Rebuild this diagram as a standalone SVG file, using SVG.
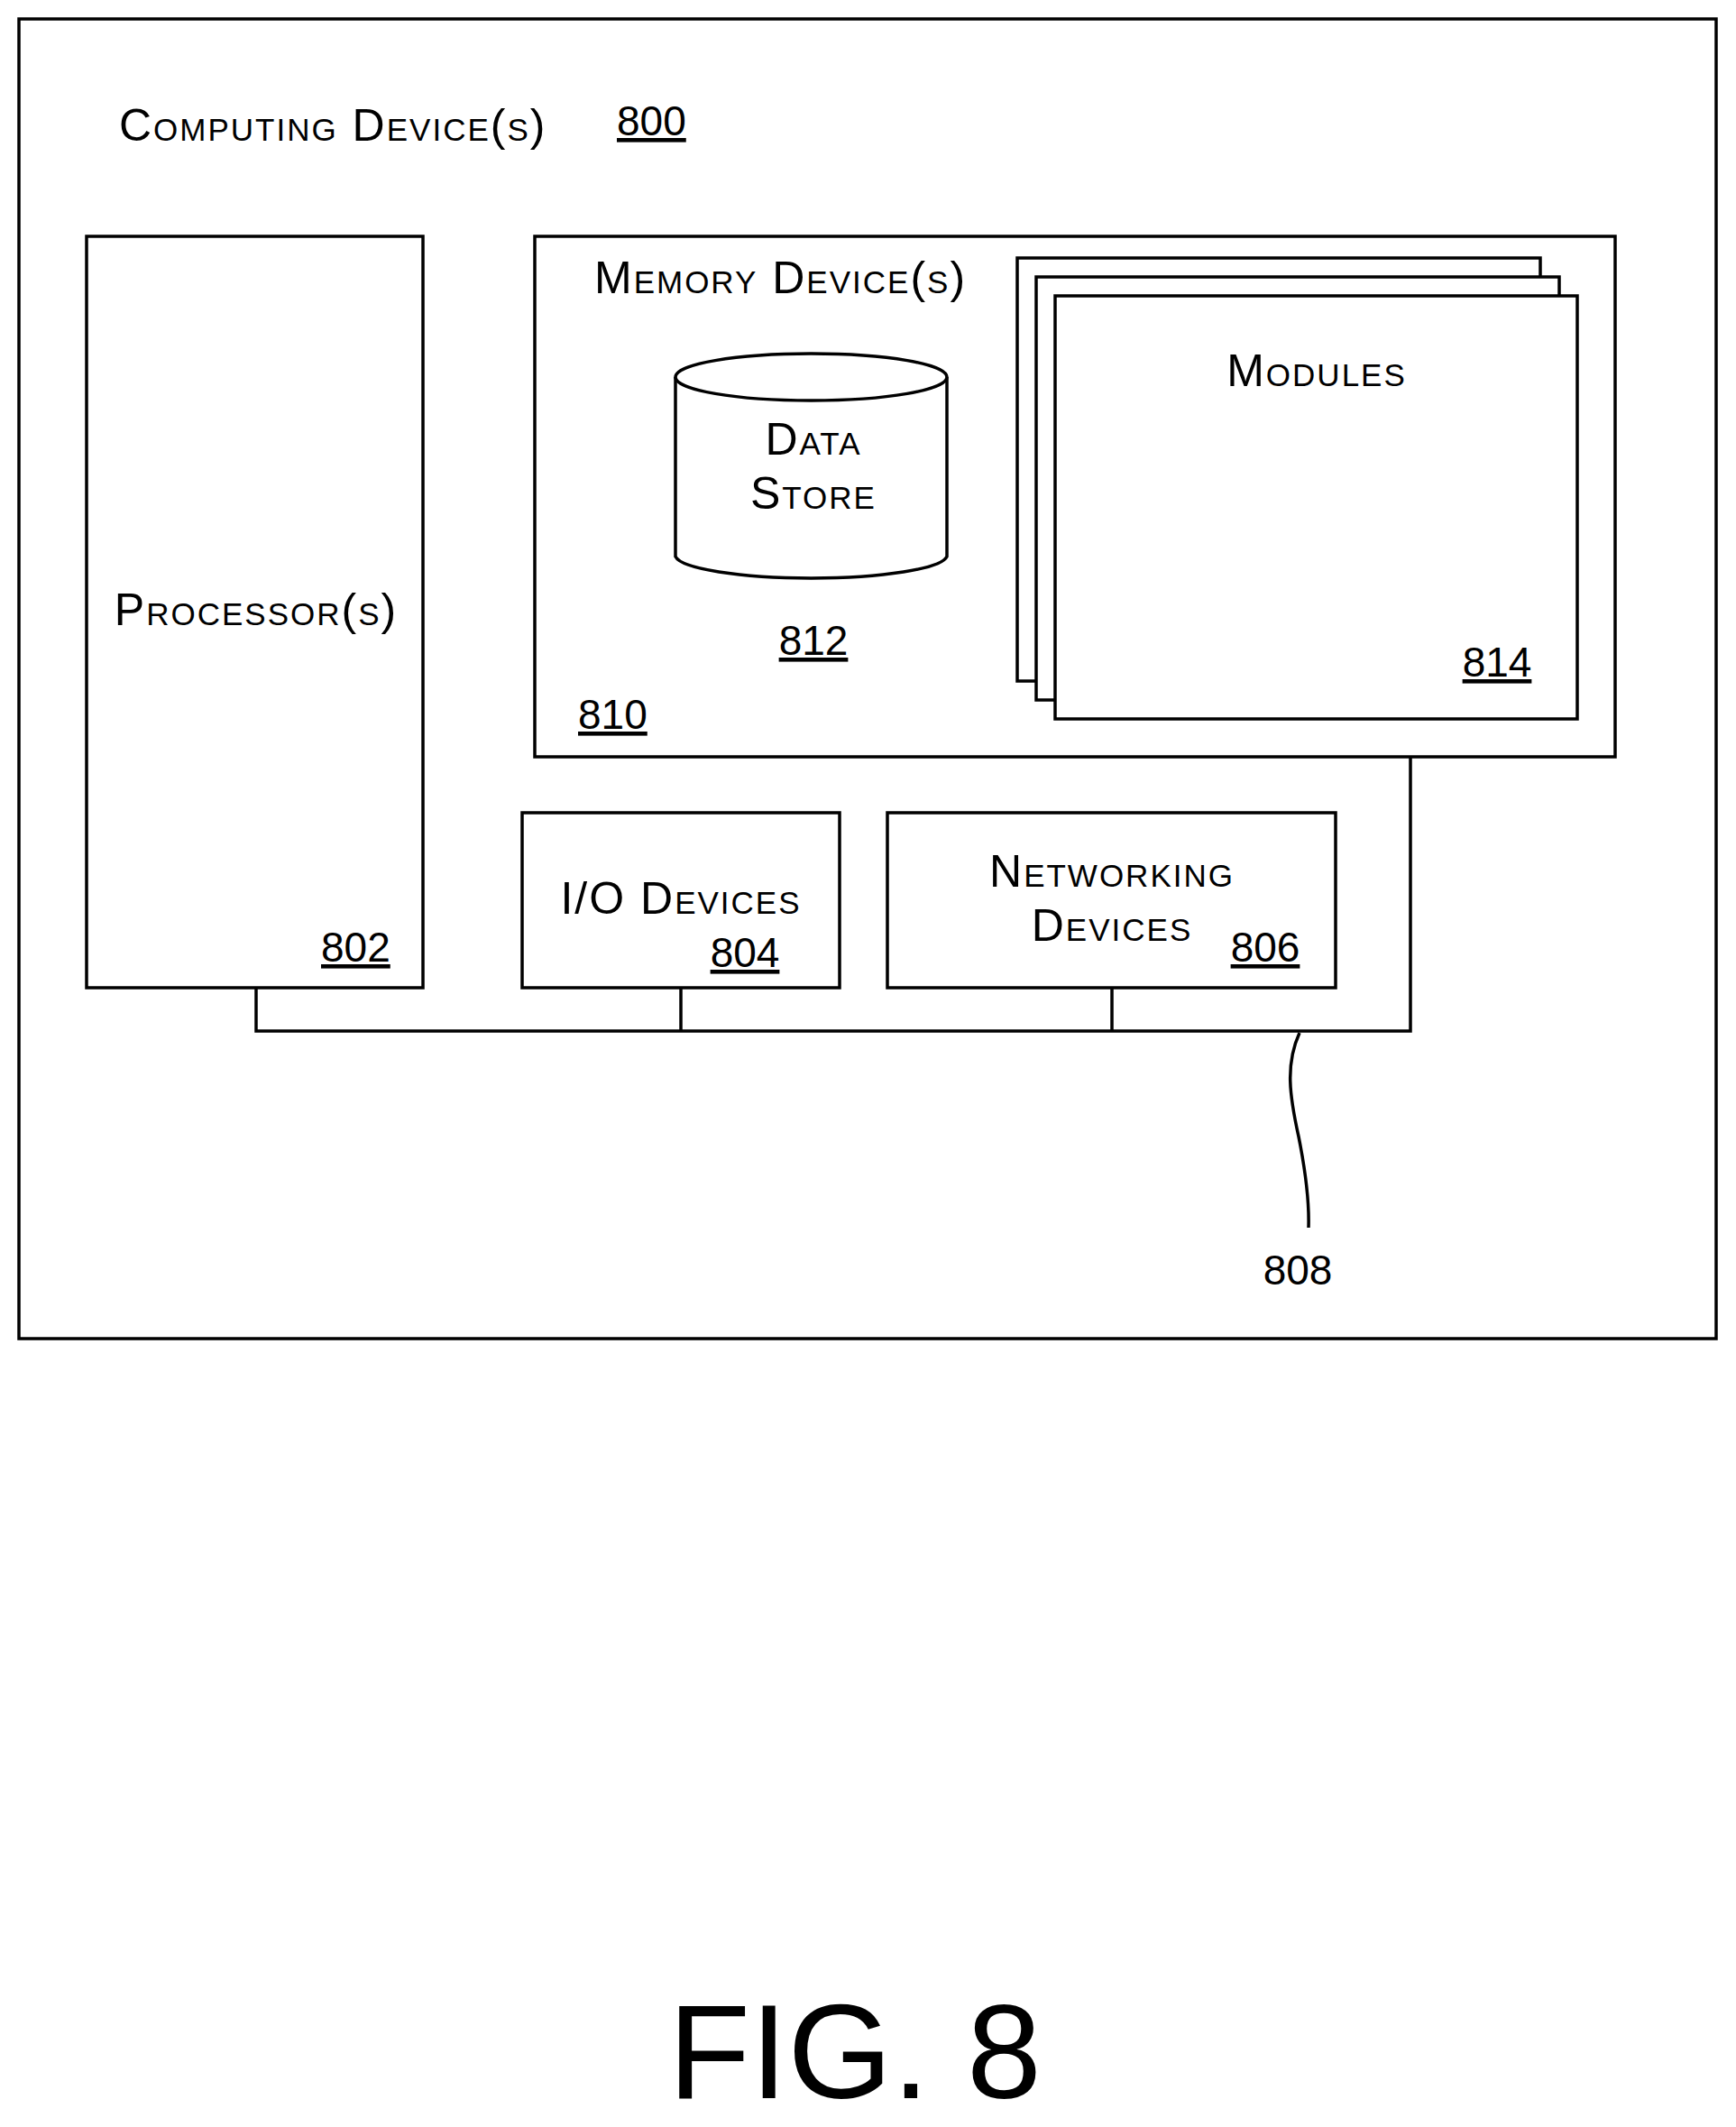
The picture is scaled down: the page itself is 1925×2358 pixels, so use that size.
<svg xmlns="http://www.w3.org/2000/svg" width="1925" height="2358" viewBox="0 0 1925 2358">
<style>
rect,ellipse,path,line{fill:#fff;stroke:#000;stroke-width:3.5}
.c{fill:none}
text{font-family:"Liberation Sans",Arial,sans-serif;font-size:46px;fill:#000}
.s{font-variant:small-caps;font-size:50px;letter-spacing:2px}
.m{text-anchor:middle}
.u{text-decoration:underline}
</style>
<rect width="1925" height="2358" style="fill:#fff;stroke:none"/>
<g id="device800">
<rect x="21" y="21" width="1882" height="1463"/>
<text class="s" x="132" y="156">Computing Device(s)</text>
<text class="u" x="684" y="150">800</text>
</g>
<g id="processor802">
<rect x="96" y="262" width="373" height="833"/>
<text class="s m" x="284" y="693">Processor(s)</text>
<text class="u" x="356" y="1066">802</text>
</g>
<g id="memory810">
<rect x="593" y="262" width="1198" height="577"/>
<text class="s" x="659" y="325">Memory Device(s)</text>
<text class="u" x="641" y="808">810</text>
</g>
<g id="datastore812">
<path d="M749 418 V617 A151 26 0 0 0 1050 617 V418"/>
<ellipse cx="899.5" cy="418" rx="150.5" ry="26"/>
<text class="s m" x="902" y="504">Data</text>
<text class="s m" x="902" y="564">Store</text>
<text class="u m" x="902" y="726">812</text>
</g>
<g id="modules814">
<rect x="1128" y="286" width="580" height="469"/>
<rect x="1149" y="307" width="580" height="469"/>
<rect x="1170" y="328" width="579" height="469"/>
<text class="s m" x="1460" y="428">Modules</text>
<text class="u m" x="1660" y="750">814</text>
</g>
<g id="io804">
<rect x="579" y="901" width="352" height="194"/>
<text class="s m" x="755" y="1013">I/O Devices</text>
<text class="u m" x="826" y="1072">804</text>
</g>
<g id="net806">
<rect x="984" y="901" width="497" height="194"/>
<text class="s m" x="1233" y="983">Networking</text>
<text class="s m" x="1233" y="1043">Devices</text>
<text class="u m" x="1403" y="1066">806</text>
</g>
<g id="connectors">
<path class="c" d="M284 1095 V1143 H1564 V839 M755 1095 V1143 M1233 1095 V1143"/>
<path class="c" d="M1441 1145 C1425 1180 1430 1215 1440 1260 C1448 1300 1452 1330 1451 1361"/>
<text class="m" x="1439" y="1424">808</text>
</g>
<text class="m" x="948" y="2326" style="font-size:149px">FIG. 8</text>
</svg>
